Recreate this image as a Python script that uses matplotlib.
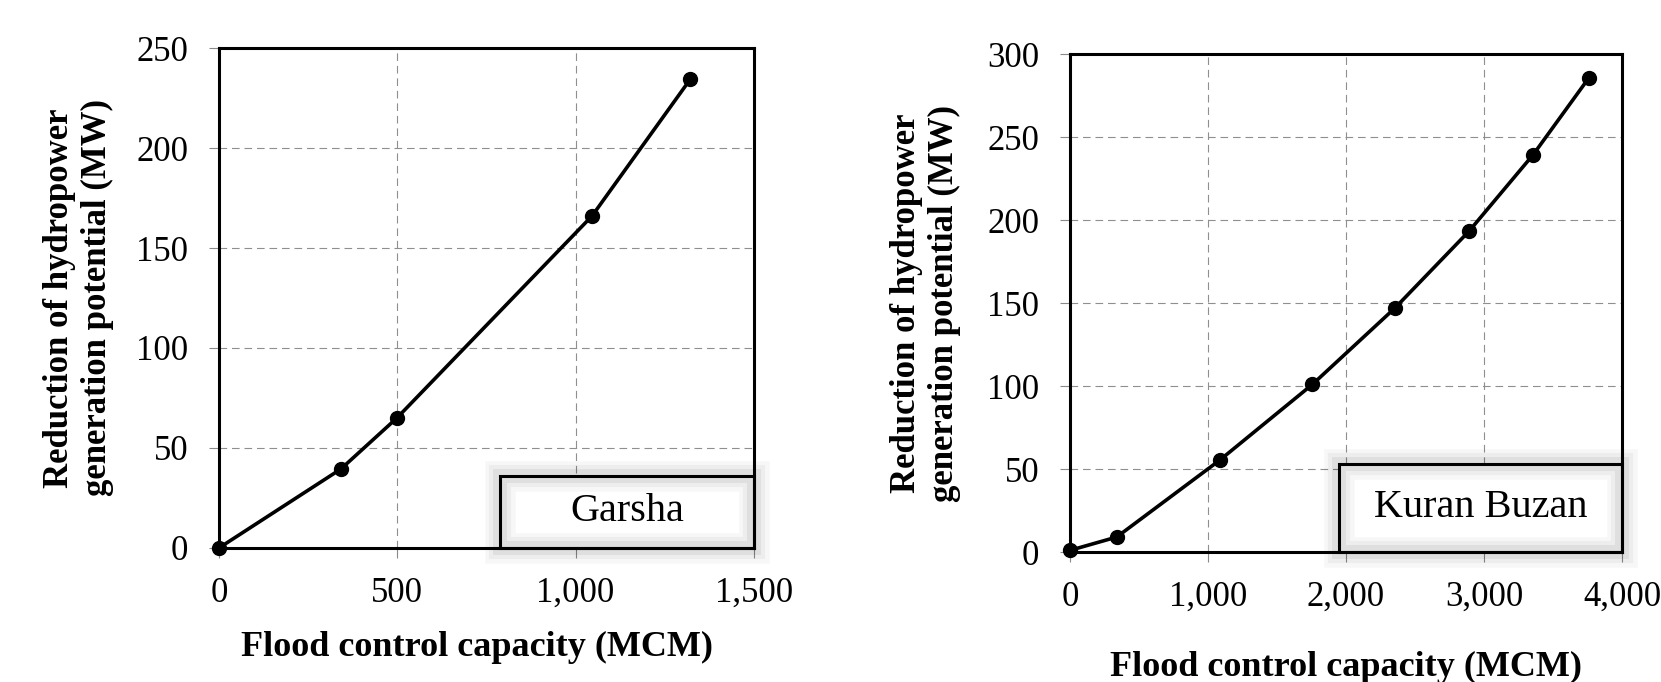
import numpy as np
import matplotlib
matplotlib.use("Agg")
import matplotlib.pyplot as plt
import matplotlib.patheffects as pe
from matplotlib.patches import Rectangle
from matplotlib.ticker import FuncFormatter, MultipleLocator

plt.rcParams['font.family'] = ['Liberation Serif', 'DejaVu Serif']
plt.rcParams['lines.scale_dashes'] = False

# Garsha
garsha_x = [0, 342, 499, 1046, 1322]
garsha_y = [0, 39.5, 65, 166, 234.5]

# Kuran Buzan
kuran_x = [0, 338, 1086, 1757, 2355, 2892, 3356, 3759]
kuran_y = [1, 9, 55.4, 101, 147, 193.3, 239.3, 285.5]

names = ["Garsha", "Kuran Buzan"]
xlab = "Flood control capacity (MCM)"
ylab = "Reduction of hydropower\ngeneration potential (MW)"

fig = plt.figure(figsize=(16.61, 6.82), dpi=100)
ax1 = fig.add_axes([0.1318, 0.1965, 0.3221, 0.7331])
ax2 = fig.add_axes([0.6442, 0.1906, 0.3323, 0.7302])


def style(ax, xs, ys, xmax, xstep, ymax, ystep, name, box_x0, box_h, xlab_x, xlab_y):
    ax.plot(xs, ys, color='black', lw=2.6, marker='o', ms=10, clip_on=False, zorder=4)
    ax.set_xlim(0, xmax)
    ax.set_ylim(0, ymax)
    ax.xaxis.set_major_locator(MultipleLocator(xstep))
    ax.yaxis.set_major_locator(MultipleLocator(ystep))
    ax.xaxis.set_major_formatter(FuncFormatter(lambda v, p: f"{v:,.0f}"))
    ax.grid(True, color='#8f8f8f', lw=0.8, ls=(0, (5.5, 3.5)))
    ax.set_axisbelow(True)
    for s in ax.spines.values():
        s.set_linewidth(2.2)
        s.set_zorder(6)
    ax.tick_params(axis='both', direction='out', length=7, width=0.8, color='#8a8a8a',
                   labelsize=25)
    ax.tick_params(axis='y', pad=15)
    ax.tick_params(axis='x', pad=14)

    # name box with soft shadow
    fill = Rectangle((box_x0, 0), 1 - box_x0, box_h, transform=ax.transAxes,
                     facecolor='white', edgecolor='none', zorder=5, clip_on=False)
    ax.add_patch(fill)
    edge = Rectangle((box_x0, 0), 1 - box_x0, box_h, transform=ax.transAxes,
                     facecolor='none', edgecolor='black', lw=2.2, zorder=5.5, clip_on=False)
    edge.set_path_effects([pe.Stroke(linewidth=22, foreground='#000000', alpha=0.03),
                           pe.Stroke(linewidth=16, foreground='#000000', alpha=0.04),
                           pe.Stroke(linewidth=10, foreground='#000000', alpha=0.06),
                           pe.Normal()])
    ax.add_patch(edge)
    ax.text(box_x0 + (1 - box_x0) / 2, box_h / 2, name, transform=ax.transAxes,
            ha='center', va='center', fontsize=29, zorder=7)

    ax.text(-0.262, 0.5, ylab, transform=ax.transAxes, rotation=90, ha='center',
            va='center', fontsize=25, fontweight='bold', linespacing=1.2)
    ax.text(xlab_x, xlab_y, xlab, transform=ax.transAxes, ha='center', va='center',
            fontsize=26, fontweight='bold')


style(ax1, garsha_x, garsha_y, 1500, 500, 250, 50, names[0], 0.525, 0.144, 0.483, -0.2)
style(ax2, kuran_x, kuran_y, 4000, 1000, 300, 50, names[1], 0.487, 0.177, 0.5, -0.231)

fig.savefig("out.png", dpi=100)
